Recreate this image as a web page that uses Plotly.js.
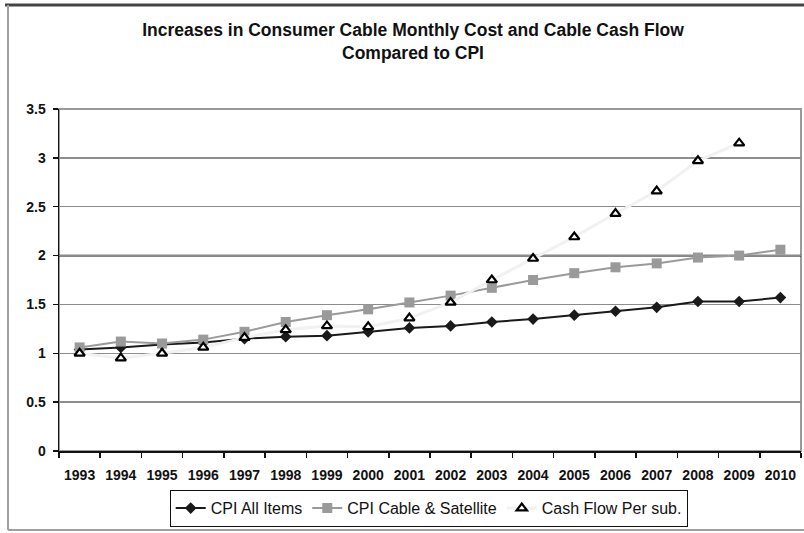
<!DOCTYPE html>
<html>
<head>
<meta charset="utf-8">
<script src="https://cdn.plot.ly/plotly-3.0.1.min.js"></script>
<style>
  html, body { margin: 0; padding: 0; background: #ffffff; }
  #chart { width: 804px; height: 533px; }
</style>
</head>
<body>
<div id="chart"></div>
<script>
// Years on the category axis
const years = ['1993','1994','1995','1996','1997','1998','1999','2000','2001',
               '2002','2003','2004','2005','2006','2007','2008','2009','2010'];

// Index values (1993 base area ~1.0)
const cpiAllItems = [1.04, 1.06, 1.09, 1.11, 1.15, 1.17, 1.18, 1.22, 1.26,
                     1.28, 1.32, 1.35, 1.39, 1.43, 1.47, 1.53, 1.53, 1.57];
const cpiCableSatellite = [1.06, 1.12, 1.10, 1.14, 1.22, 1.32, 1.39, 1.45, 1.52,
                           1.59, 1.67, 1.75, 1.82, 1.88, 1.92, 1.98, 2.00, 2.06];
const cashFlowPerSub = [1.00, 0.95, 1.00, 1.06, 1.16, 1.24, 1.28, 1.27, 1.36,
                        1.52, 1.75, 1.97, 2.19, 2.43, 2.66, 2.97, 3.15, null];

const yTicks = [0, 0.5, 1, 1.5, 2, 2.5, 3, 3.5];
const yTickText = ['0', '0.5', '1', '1.5', '2', '2.5', '3', '3.5'];

const seriesNames = ['CPI All Items', 'CPI Cable & Satellite', 'Cash Flow Per sub.'];
const chartTitle = 'Increases in Consumer Cable Monthly Cost and Cable Cash Flow<br>Compared to CPI';

const FONT = '"Liberation Sans", Arial, Helvetica, sans-serif';

// pixel helpers for the frame drawn around the whole figure
const PL = 59, PR = 801, PT = 109, PB = 451;
const px = v => (v - PL) / (PR - PL);
const py = v => (PB - v) / (PB - PT);

const traces = [
  {
    x: years, y: cpiAllItems, name: seriesNames[0],
    type: 'scatter', mode: 'lines+markers',
    line: { color: '#1a1a1a', width: 2 },
    marker: { symbol: 'diamond', size: 9, color: '#1a1a1a' }
  },
  {
    x: years, y: cpiCableSatellite, name: seriesNames[1],
    type: 'scatter', mode: 'lines+markers',
    line: { color: '#9a9a9a', width: 2 },
    marker: { symbol: 'square', size: 10, color: '#9a9a9a' }
  },
  {
    x: years, y: cashFlowPerSub, name: seriesNames[2],
    type: 'scatter', mode: 'lines+markers',
    line: { color: '#f1f1f1', width: 3 },
    marker: { symbol: 'triangle-up', size: 9, color: '#ffffff',
              line: { color: '#000000', width: 2.2 } }
  }
];

const layout = {
  width: 804, height: 533,
  margin: { l: PL, r: 804 - PR, t: PT, b: 533 - PB, autoexpand: false },
  paper_bgcolor: '#ffffff', plot_bgcolor: '#ffffff',
  font: { family: FONT, color: '#111111' },
  showlegend: true,
  title: {
    text: chartTitle,
    font: { family: FONT, size: 17.5, color: '#111111', weight: 'bold' },
    xref: 'container', x: 413 / 804, xanchor: 'center',
    yref: 'container', y: 1 - 36 / 533, yanchor: 'top'
  },
  xaxis: {
    type: 'category',
    range: [-0.5, 17.5],
    tickson: 'boundaries',
    ticks: 'outside', ticklen: 5, tickwidth: 1.5, tickcolor: '#111111',
    showline: true, linecolor: '#111111', linewidth: 1.5,
    showgrid: false, zeroline: false,
    ticklabelstandoff: 11,
    tickfont: { family: FONT, size: 14, color: '#111111', weight: 'bold' }
  },
  yaxis: {
    range: [0, 3.5],
    tickvals: yTicks, ticktext: yTickText,
    ticks: 'outside', ticklen: 5, tickwidth: 1.5, tickcolor: '#111111',
    showline: true, linecolor: '#111111', linewidth: 1.5,
    showgrid: true, gridcolor: '#8c8c8c', gridwidth: 1.3,
    zeroline: false,
    ticklabelstandoff: 4,
    tickfont: { family: FONT, size: 14, color: '#111111', weight: 'bold' }
  },
  legend: {
    orientation: 'h',
    x: px(429), xanchor: 'center',
    y: py(527), yanchor: 'bottom',
    bordercolor: '#111111', borderwidth: 1.2,
    bgcolor: '#ffffff',
    font: { family: FONT, size: 16, color: '#111111' },
    itemwidth: 30, tracegroupgap: 0
  },
  shapes: [
    // gray border of the plotting area (top and right show)
    { type: 'rect', xref: 'paper', yref: 'paper', x0: 0, x1: 1, y0: 0, y1: 1,
      line: { color: '#999999', width: 2 }, layer: 'below' },
    // dark reference line at 2.0
    { type: 'line', xref: 'paper', yref: 'y', x0: 0, x1: 1, y0: 2, y1: 2,
      line: { color: '#111111', width: 1.8 }, layer: 'between' },
    // outer frame of the figure
    { type: 'line', xref: 'paper', yref: 'paper', x0: px(5), x1: px(806), y0: py(5), y1: py(5),
      line: { color: '#444444', width: 3 } },
    { type: 'line', xref: 'paper', yref: 'paper', x0: px(8), x1: px(8), y0: py(5), y1: py(530),
      line: { color: '#a0a0a0', width: 2 } },
    { type: 'line', xref: 'paper', yref: 'paper', x0: px(8), x1: px(806), y0: py(530), y1: py(530),
      line: { color: '#a0a0a0', width: 2 } }
  ]
};

Plotly.newPlot('chart', traces, layout, { displayModeBar: false, staticPlot: true });
</script>
</body>
</html>
